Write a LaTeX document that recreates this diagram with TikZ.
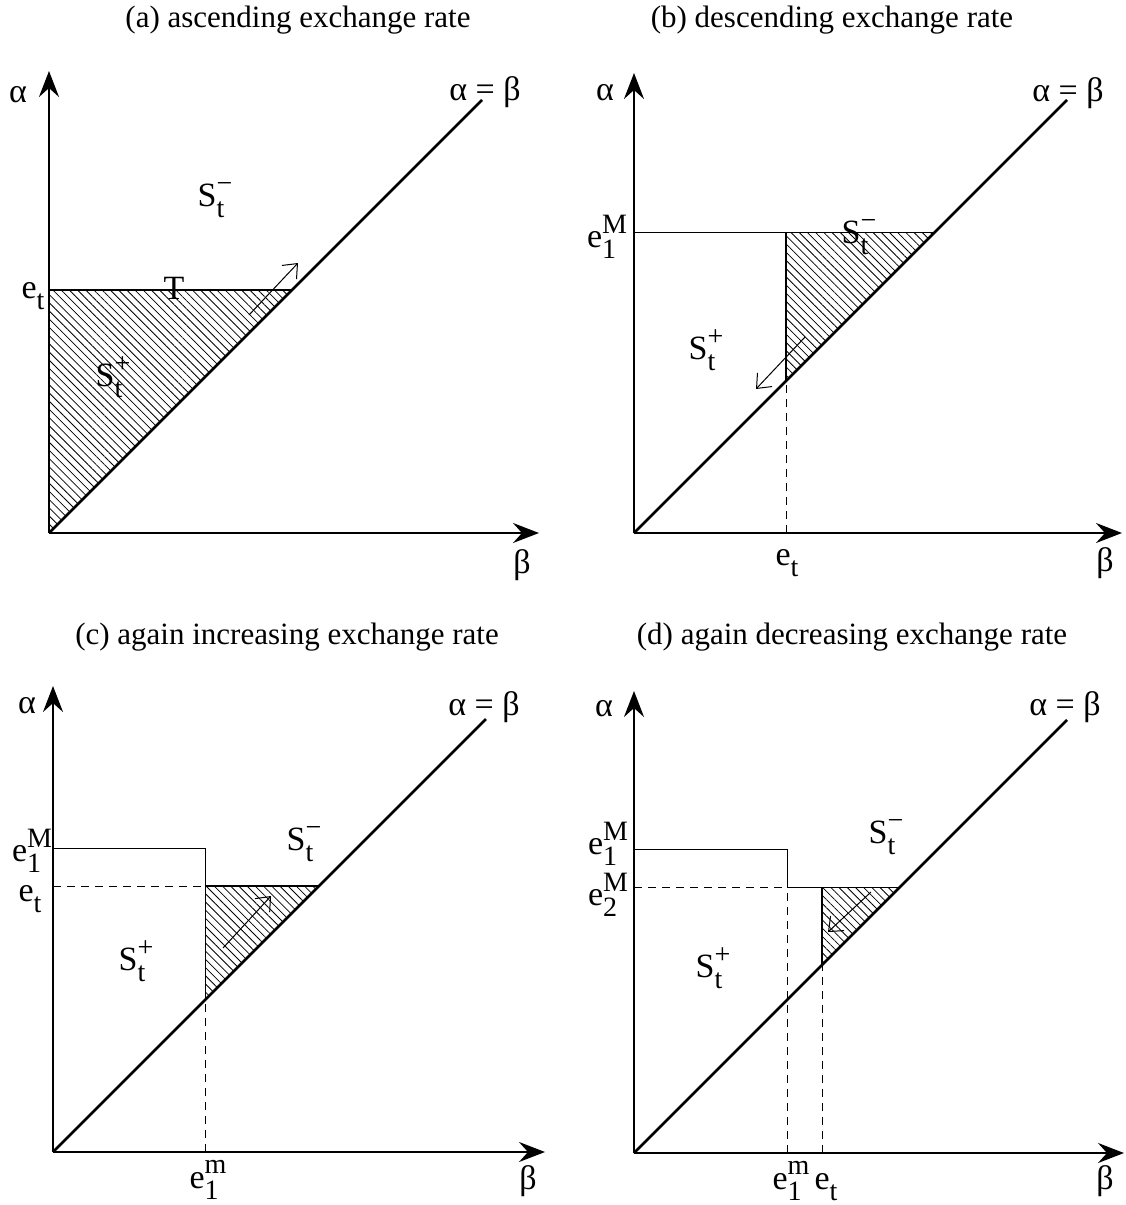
\documentclass[tikz,border=0pt]{standalone}
\usepackage{fontspec}
\setmainfont{Liberation Serif}
\usetikzlibrary{arrows.meta, patterns.meta}

\newcommand{\labsize}{\fontsize{17}{20}\selectfont}
\newcommand{\titlesize}{\fontsize{15.5}{18}\selectfont}
\newcommand{\idxsize}{\fontsize{14}{15}\selectfont}
\newcommand{\subix}[2]{#1\raisebox{-0.33em}{\idxsize #2}}
\newcommand{\supsubix}[3]{#1\raisebox{-0.33em}{\idxsize\rlap{#3}}\raisebox{0.42em}{\idxsize #2}}

\begin{document}
\begin{tikzpicture}[x=0.5pt, y=0.5pt,
    axis/.style={-{Stealth[length=13pt, width=10pt, inset=4.5pt]}, line width=1.3pt},
    bold/.style={line width=1.3pt},
    rim/.style={line width=0.5pt},
    guide/.style={line width=0.5pt, dash pattern=on 4pt off 3pt},
    hatch/.style={pattern={Lines[angle=-45, distance=2.9pt, line width=0.4pt]}},
    move/.style={-{Straight Barb[length=6pt, width=10pt]}, line width=0.5pt},
    lab/.style={font=\labsize, inner sep=0pt},
    title/.style={font=\titlesize},
  ]
  \useasboundingbox (0,0) rectangle (1125,-1205);

  % (a) ascending
  \node[title] (atitle) at (298,-20) {(a) ascending exchange rate};
  \begin{scope}[shift={(49,-533)}]
    \coordinate (aO) at (0,0);
    \coordinate (aY) at (0,462);
    \coordinate (aX) at (490,0);
    \coordinate (aD) at (433,433);
    \coordinate (aE) at (0,243);
    \coordinate (aF) at (243,243);
    \path[hatch] (aO) -- (aE) -- (aF) -- cycle;
    \draw[bold] (aE) -- (aF);
    \draw[bold] (aO) -- (aD);
    \draw[axis] (aO) -- (aY);
    \draw[axis] (aO) -- (aX);
    \coordinate (aP) at (200,218);
    \coordinate (aQ) at (249,270);
    \draw[move] (aP) -- (aQ);
    \node[lab] (aalpha) at (-31,438) {α};
    \node[lab] (adiag) at (436,441) {α = β};
    \node[lab] (abeta) at (473,-32) {β};
    \node[lab] (aet) at (-16,237) {\subix{e}{t}};
    \node[lab] (aT) at (125,245) {T};
    \node[lab] (aSm) at (166,333) {\supsubix{S}{−}{t}};
    \node[lab] (aSp) at (64,156) {\supsubix{S}{+}{t}};
  \end{scope}

  % (b) descending
  \node[title] (btitle) at (832,-20) {(b) descending exchange rate};
  \begin{scope}[shift={(634,-533)}]
    \coordinate (bO) at (0,0);
    \coordinate (bY) at (0,460);
    \coordinate (bX) at (488,0);
    \coordinate (bD) at (433,433);
    \coordinate (bE) at (0,301);
    \coordinate (bF) at (301,301);
    \coordinate (bG) at (152,301);
    \coordinate (bH) at (152,152);
    \coordinate (bB) at (152,0);
    \path[hatch] (bH) -- (bG) -- (bF) -- cycle;
    \draw[rim] (bE) -- (bF);
    \draw[bold] (bH) -- (bG);
    \draw[guide] (bB) -- (bH);
    \draw[bold] (bO) -- (bD);
    \draw[axis] (bO) -- (bY);
    \draw[axis] (bO) -- (bX);
    \coordinate (bP) at (171,196);
    \coordinate (bQ) at (122,144);
    \draw[move] (bP) -- (bQ);
    \node[lab] (balpha) at (-29,440) {α};
    \node[lab] (bdiag) at (434,440) {α = β};
    \node[lab] (bbeta) at (471,-30) {β};
    \node[lab] (beM) at (-27,296) {\supsubix{e}{M}{1}};
    \node[lab] (bet) at (153,-30) {\subix{e}{t}};
    \node[lab] (bSm) at (225,296) {\supsubix{S}{−}{t}};
    \node[lab] (bSp) at (72,183) {\supsubix{S}{+}{t}};
  \end{scope}

  % (c) again increasing
  \node[title] (ctitle) at (287,-637) {(c) again increasing exchange rate};
  \begin{scope}[shift={(53,-1152)}]
    \coordinate (cO) at (0,0);
    \coordinate (cY) at (0,466);
    \coordinate (cX) at (492,0);
    \coordinate (cD) at (433,433);
    \coordinate (cE) at (0,304);
    \coordinate (cG) at (152,304);
    \coordinate (cH) at (152,152);
    \coordinate (cK) at (0,266);
    \coordinate (cL) at (152,266);
    \coordinate (cF) at (266,266);
    \coordinate (cB) at (152,0);
    \path[hatch] (cH) -- (cL) -- (cF) -- cycle;
    \draw[rim] (cE) -- (cG) -- (cH);
    \draw[guide] (cK) -- (cL);
    \draw[guide] (cB) -- (cH);
    \draw[bold] (cL) -- (cF);
    \draw[bold] (cO) -- (cD);
    \draw[axis] (cO) -- (cY);
    \draw[axis] (cO) -- (cX);
    \coordinate (cP) at (170,204);
    \coordinate (cQ) at (218,256);
    \draw[move] (cP) -- (cQ);
    \node[lab] (calpha) at (-26,446) {α};
    \node[lab] (cdiag) at (431,445) {α = β};
    \node[lab] (cbeta) at (475,-29) {β};
    \node[lab] (ceM) at (-21,301) {\supsubix{e}{M}{1}};
    \node[lab] (cet) at (-23,253) {\subix{e}{t}};
    \node[lab] (cem) at (155,-28) {\supsubix{e}{m}{1}};
    \node[lab] (cSm) at (251,308) {\supsubix{S}{−}{t}};
    \node[lab] (cSp) at (83,191) {\supsubix{S}{+}{t}};
  \end{scope}

  % (d) again decreasing
  \node[title] (dtitle) at (852,-637) {(d) again decreasing exchange rate};
  \begin{scope}[shift={(634,-1153)}]
    \coordinate (dO) at (0,0);
    \coordinate (dY) at (0,462);
    \coordinate (dX) at (490,0);
    \coordinate (dD) at (433,433);
    \coordinate (dE) at (0,304);
    \coordinate (dG) at (153,304);
    \coordinate (dK) at (0,266);
    \coordinate (dL) at (153,266);
    \coordinate (dM) at (188,266);
    \coordinate (dH) at (188,188);
    \coordinate (dF) at (266,266);
    \coordinate (dB) at (153,0);
    \coordinate (dC) at (188,0);
    \path[hatch] (dH) -- (dM) -- (dF) -- cycle;
    \draw[rim] (dE) -- (dG) -- (dL) -- (dM) -- (dF);
    \draw[guide] (dK) -- (dL);
    \draw[guide] (dB) -- (dL);
    \draw[guide] (dC) -- (dH);
    \draw[bold] (dH) -- (dM);
    \draw[bold] (dO) -- (dD);
    \draw[axis] (dO) -- (dY);
    \draw[axis] (dO) -- (dX);
    \coordinate (dP) at (237,261);
    \coordinate (dQ) at (194,221);
    \draw[move] (dP) -- (dQ);
    \node[lab] (dalpha) at (-30,444) {α};
    \node[lab] (ddiag) at (431,446) {α = β};
    \node[lab] (dbeta) at (471,-28) {β};
    \node[lab] (deM) at (-26,309) {\supsubix{e}{M}{1}};
    \node[lab] (de2) at (-26,258) {\supsubix{e}{M}{2}};
    \node[lab] (dem) at (157,-28) {\supsubix{e}{m}{1}};
    \node[lab] (det) at (192,-34) {\subix{e}{t}};
    \node[lab] (dSm) at (252,316) {\supsubix{S}{−}{t}};
    \node[lab] (dSp) at (79,185) {\supsubix{S}{+}{t}};
  \end{scope}
\end{tikzpicture}
\end{document}
